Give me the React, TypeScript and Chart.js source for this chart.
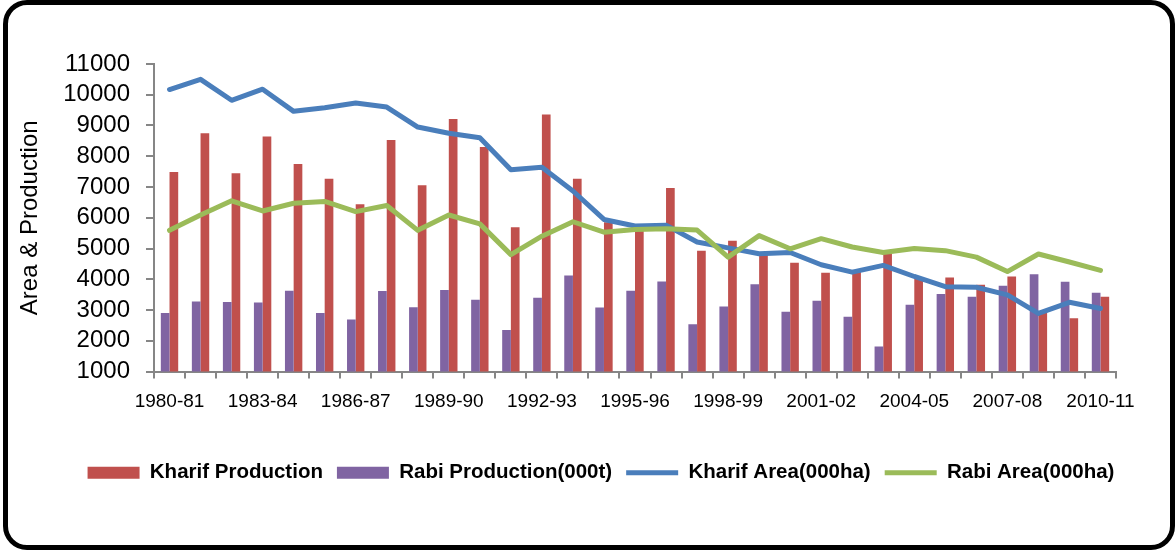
import React, { useEffect, useRef } from "react";
import { Chart, registerables } from "chart.js";

Chart.register(...registerables);

const categories = [
  "1980-81", "1981-82", "1982-83", "1983-84", "1984-85", "1985-86", "1986-87", "1987-88",
  "1988-89", "1989-90", "1990-91", "1991-92", "1992-93", "1993-94", "1994-95", "1995-96",
  "1996-97", "1997-98", "1998-99", "1999-00", "2000-01", "2001-02", "2002-03", "2003-04",
  "2004-05", "2005-06", "2006-07", "2007-08", "2008-09", "2009-10", "2010-11",
];

const kharifProduction = [
  7490, 8750, 7450, 8640, 7750, 7270, 6440, 8530, 7060, 9210, 8300, 5690, 9360, 7270, 5850, 5670,
  6970, 4930, 5250, 4850, 4540, 4210, 4250, 4820, 4010, 4060, 3820, 4090, 2940, 2730, 3430,
];

const rabiProduction = [
  2900, 3280, 3260, 3240, 3630, 2900, 2690, 3620, 3090, 3650, 3330, 2350, 3400, 4120, 3080, 3630,
  3930, 2540, 3110, 3840, 2940, 3300, 2780, 1810, 3170, 3520, 3430, 3790, 4160, 3920, 3560,
];

const kharifArea = [
  10170, 10500, 9820, 10180, 9460, 9580, 9730, 9600, 8950, 8750, 8600, 7560, 7640, 6870, 5945, 5730,
  5760, 5210, 5020, 4830, 4870, 4470, 4230, 4450, 4090, 3760, 3740, 3490, 2890, 3250, 3050,
];

const rabiArea = [
  5590, 6090, 6550, 6220, 6470, 6530, 6200, 6400, 5590, 6090, 5800, 4800, 5400, 5870, 5530, 5620,
  5640, 5600, 4720, 5420, 4990, 5320, 5050, 4870, 5000, 4930, 4720, 4250, 4820, 4560, 4290,
];

const yTicks = [1000, 2000, 3000, 4000, 5000, 6000, 7000, 8000, 9000, 10000, 11000];

const AXIS = "#868686";
const FONT = "'Liberation Sans', Arial, sans-serif";

export default function App() {
  const ref = useRef<HTMLCanvasElement | null>(null);

  useEffect(() => {
    if (!ref.current) return;
    const chart = new Chart(ref.current, {
      type: "bar",
      data: {
        labels: categories,
        datasets: [
          {
            type: "bar",
            label: "Kharif Production",
            data: kharifProduction,
            backgroundColor: "#C0504D",
            pointStyle: "rect",
            order: 3,
            barPercentage: 1,
            categoryPercentage: 0.56,
          },
          {
            type: "bar",
            label: "Rabi Production(000t)",
            data: rabiProduction,
            backgroundColor: "#8064A2",
            pointStyle: "rect",
            order: 2,
            barPercentage: 1,
            categoryPercentage: 0.56,
          },
          {
            type: "line",
            label: "Kharif Area(000ha)",
            data: kharifArea,
            borderColor: "#4A7EBB",
            backgroundColor: "#4A7EBB",
            borderWidth: 5,
            borderCapStyle: "round",
            borderJoinStyle: "round",
            pointRadius: 0,
            pointStyle: "line",
            tension: 0,
            order: 1,
          },
          {
            type: "line",
            label: "Rabi Area(000ha)",
            data: rabiArea,
            borderColor: "#9BBB59",
            backgroundColor: "#9BBB59",
            borderWidth: 5,
            borderCapStyle: "round",
            borderJoinStyle: "round",
            pointRadius: 0,
            pointStyle: "line",
            tension: 0,
            order: 0,
          },
        ],
      },
      options: {
        animation: false,
        responsive: false,
        layout: { padding: { left: 26, right: 0, top: 64, bottom: 58 } },
        plugins: {
          tooltip: { enabled: false },
          legend: {
            position: "bottom",
            labels: {
              usePointStyle: true,
              pointStyleWidth: 52,
              boxHeight: 12,
              padding: 14,
              color: "#000",
              font: { family: FONT, size: 20.5, weight: "bold" },
              sort: (a: any, b: any) => a.datasetIndex - b.datasetIndex,
            },
          },
        },
        scales: {
          x: {
            offset: true,
            grid: {
              display: true,
              offset: true,
              drawOnChartArea: false,
              drawTicks: true,
              tickLength: 7,
              color: AXIS,
              lineWidth: 2,
            },
            border: { display: true, color: AXIS, width: 2 },
            ticks: {
              autoSkip: false,
              maxRotation: 0,
              minRotation: 0,
              padding: 12,
              color: "#000",
              font: { family: FONT, size: 19 },
              callback: (_v: any, i: number) => (i % 3 === 0 ? categories[i] : ""),
            },
            afterFit: (s: any) => {
              s.height = 77;
            },
          },
          y: {
            min: 1000,
            max: 11000,
            afterBuildTicks: (s: any) => {
              s.ticks = yTicks.map((v) => ({ value: v }));
            },
            grid: {
              display: true,
              drawOnChartArea: false,
              drawTicks: true,
              tickLength: 8,
              color: AXIS,
              lineWidth: 2,
            },
            border: { display: true, color: AXIS, width: 2 },
            ticks: {
              autoSkip: false,
              padding: 16,
              color: "#000",
              font: { family: FONT, size: 24 },
              callback: (v: any) => String(v),
            },
            title: {
              display: true,
              text: "Area & Production",
              color: "#000",
              padding: { top: -10, bottom: 0 },
              font: { family: FONT, size: 24 },
            },
            afterFit: (s: any) => {
              s.width = 128;
            },
          },
          y2: {
            position: "right",
            display: true,
            grid: { display: false },
            border: { display: false },
            ticks: { display: false },
            afterFit: (s: any) => {
              s.width = 60;
            },
          },
        },
      },
    });
    return () => chart.destroy();
  }, []);

  return (
    <div style={{ position: "fixed", left: 0, top: 0, width: 1176, height: 551, background: "#fff" }}>
      <canvas ref={ref} width={1176} height={551} style={{ position: "absolute", left: 0, top: 0, width: 1176, height: 551 }} />
      <div
        style={{
          position: "absolute",
          left: 3,
          top: 0,
          width: 1172,
          height: 550,
          border: "5px solid #000",
          borderRadius: 24,
          boxSizing: "border-box",
          pointerEvents: "none",
        }}
      />
    </div>
  );
}
